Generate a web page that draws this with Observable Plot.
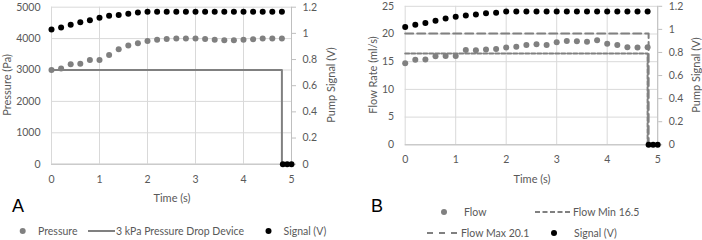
<!DOCTYPE html>
<html><head><meta charset="utf-8">
<script src="https://cdn.jsdelivr.net/npm/d3@7"></script>
<script src="https://cdn.jsdelivr.net/npm/@observablehq/plot@0.6"></script>
<style>
body{margin:0;background:#fff;}
#wrap{position:relative;width:702px;height:240px;overflow:hidden;font-family:Lato,"Open Sans",sans-serif;color:#595959;}
.abs{position:absolute;white-space:nowrap;line-height:1;}
</style>
</head><body><div id="wrap"></div>
<script>
// ---------- data ----------
const time = [0,0.2,0.4,0.6,0.8,1,1.2,1.4,1.6,1.8,2,2.2,2.4,2.6,2.8,3,3.2,3.4,3.6,3.8,4,4.2,4.4,4.6,4.8];
const pressure = [3000,3050,3180,3200,3320,3320,3480,3660,3780,3850,3920,3960,3990,4000,4000,4000,3990,3960,3950,3950,3960,3980,4000,4000,4000];
const signalA = [1.03,1.045,1.065,1.085,1.10,1.12,1.135,1.14,1.15,1.16,1.165,1.165,1.165,1.165,1.165,1.165,1.165,1.165,1.165,1.165,1.165,1.165,1.165,1.165,1.165];
const signalOffTime = [4.82,4.91,5.0];
const signalOff = [0,0,0];
const deviceTime = [0,4.8,4.8,5.0];
const devicePressure = [3000,3000,0,0];

const flow = [14.7,15.35,15.4,16.0,16.05,16.05,17.1,17.05,17.2,17.3,17.55,17.7,18.0,18.15,18.0,18.5,18.75,18.7,18.6,18.85,18.25,18.0,17.6,17.55,17.6];
const signalB = [1.02,1.04,1.055,1.075,1.095,1.11,1.12,1.13,1.14,1.145,1.155,1.155,1.155,1.155,1.155,1.155,1.155,1.155,1.155,1.155,1.155,1.155,1.155,1.155,1.155];
const flowMinTime = [0,4.8,4.8];
const flowMin = [16.5,16.5,0];
const flowMaxTime = [0,4.82,4.82];
const flowMax = [20.1,20.1,0];

const xTicks = [0,1,2,3,4,5];
const pressureTicks = [0,1000,2000,3000,4000,5000];
const flowTicks = [0,5,10,15,20,25];
const signalTicks = [0,0.2,0.4,0.6,0.8,1,1.2];
const signalTickLabels = ["0","0.2","0.4","0.6","0.8","1","1.2"];

// ---------- helpers ----------
const wrap = document.getElementById("wrap");
const GRID = "#d9d9d9", AXIS = "#bfbfbf", TXT = "#595959", GRAY = "#808080";
const font = {fontFamily:"Lato, 'Open Sans', sans-serif", fontSize:"10.5px", color:TXT, background:"transparent", overflow:"visible"};

function place(el, x, y){ el.style.position="absolute"; el.style.left=x+"px"; el.style.top=y+"px"; wrap.appendChild(el); }
function txt(s, x, y, {size=11, rot=0, anchor="center", color=TXT, family=null}={}){
  const d = document.createElement("div");
  d.className = "abs"; d.textContent = s;
  d.style.left = x+"px"; d.style.top = y+"px";
  d.style.fontSize = size+"px"; d.style.color = color;
  if (family) d.style.fontFamily = family;
  d.style.transform = (anchor==="center" ? "translate(-50%,-50%)" : "translate(0,-50%)") + (rot ? ` rotate(${rot}deg)` : "");
  wrap.appendChild(d);
}

function chart({width, height, mL, mR, mT, mB, yMax, yTicks, series, signal, lines}){
  const k = yMax / 1.2;
  const rows = time.map((t,i)=>({t, v:series[i], s:signal[i]*k}));
  const off = signalOffTime.map((t,i)=>({t, s:signalOff[i]*k}));
  return Plot.plot({
    width, height, marginLeft:mL, marginRight:mR, marginTop:mT, marginBottom:mB,
    x:{domain:[0,5]}, y:{domain:[0,yMax]},
    style:font,
    marks:[
      Plot.gridX(xTicks, {stroke:GRID, strokeOpacity:1}),
      Plot.gridY(yTicks, {stroke:GRID, strokeOpacity:1}),
      Plot.ruleY([0], {stroke:AXIS}),
      Plot.ruleX([5], {stroke:AXIS}),
      Plot.axisX(xTicks, {tickSize:0, tickPadding:11, label:null, fill:TXT, tickFormat:d=>String(d)}),
      Plot.axisY(yTicks, {anchor:"left", tickSize:0, tickPadding:11, label:null, fill:TXT, tickFormat:d=>String(d)}),
      Plot.axisY(signalTicks.map(v=>v*k), {anchor:"right", tickSize:4, tickPadding:7, label:null,
        stroke:AXIS, fill:TXT, tickFormat:(d,i)=>signalTickLabels[i]}),
      ...lines,
      Plot.dot(rows, {x:"t", y:"v", r:3, fill:GRAY, stroke:null}),
      Plot.dot(rows, {x:"t", y:"s", r:3, fill:"#000", stroke:null}),
      Plot.dot(off, {x:"t", y:"s", r:3, fill:"#000", stroke:null})
    ]
  });
}

// ---------- chart A ----------
const deviceRows = deviceTime.map((t,i)=>({t, v:devicePressure[i]}));
const A = chart({width:351, height:200, mL:51, mR:60, mT:6.7, mB:36.3, yMax:5000, yTicks:pressureTicks,
  series:pressure, signal:signalA,
  lines:[Plot.line(deviceRows, {x:"t", y:"v", stroke:GRAY, strokeWidth:2})]});
place(A, 0, 0);

// ---------- chart B ----------
const minRows = flowMinTime.map((t,i)=>({t, v:flowMin[i]}));
const maxRows = flowMaxTime.map((t,i)=>({t, v:flowMax[i]}));
const B = chart({width:351, height:180, mL:53.7, mR:44.8, mT:5.8, mB:35.7, yMax:25, yTicks:flowTicks,
  series:flow, signal:signalB,
  lines:[
    Plot.line(maxRows, {x:"t", y:"v", stroke:GRAY, strokeWidth:2, strokeDasharray:"8,4"}),
    Plot.line(minRows, {x:"t", y:"v", stroke:GRAY, strokeWidth:2, strokeDasharray:"4,2"})
  ]});
place(B, 351, 0);

// ---------- titles ----------
txt("Pressure (Pa)", 6, 85, {rot:-90});
txt("Pump Signal (V)", 330, 85, {rot:-90});
txt("Time (s)", 172, 197);
txt("Flow Rate (ml/s)", 372, 75, {rot:-90});
txt("Pump Signal (V)", 695, 75, {rot:-90});
txt("Time (s)", 532, 178);
txt("A", 18, 206, {size:18, color:"#000", family:"'Liberation Sans', Arial, sans-serif"});
txt("B", 377, 206, {size:18, color:"#000", family:"'Liberation Sans', Arial, sans-serif"});

// ---------- legends ----------
const lg = d3.create("svg").attr("width",702).attr("height",240).style("pointer-events","none");
lg.append("circle").attr("cx",22.7).attr("cy",231).attr("r",3).attr("fill",GRAY);
lg.append("line").attr("x1",88).attr("x2",115).attr("y1",231).attr("y2",231).attr("stroke",GRAY).attr("stroke-width",2);
lg.append("circle").attr("cx",268.5).attr("cy",231).attr("r",3).attr("fill","#000");
lg.append("circle").attr("cx",444).attr("cy",212).attr("r",3).attr("fill",GRAY);
lg.append("line").attr("x1",535).attr("x2",572).attr("y1",212).attr("y2",212).attr("stroke",GRAY).attr("stroke-width",2).attr("stroke-dasharray","5,2.5");
lg.append("line").attr("x1",427).attr("x2",460).attr("y1",233).attr("y2",233).attr("stroke",GRAY).attr("stroke-width",2).attr("stroke-dasharray","6,6");
lg.append("circle").attr("cx",554).attr("cy",233).attr("r",3).attr("fill","#000");
place(lg.node(), 0, 0);

txt("Pressure", 38, 231, {size:10.5, anchor:"left"});
txt("3 kPa Pressure Drop Device", 116, 231, {size:10.5, anchor:"left"});
txt("Signal (V)", 283.5, 231, {size:10.5, anchor:"left"});
txt("Flow", 464, 212, {size:10.5, anchor:"left"});
txt("Flow Min 16.5", 573, 212, {size:10.5, anchor:"left"});
txt("Flow Max 20.1", 461, 233, {size:10.5, anchor:"left"});
txt("Signal (V)", 574, 233, {size:10.5, anchor:"left"});
</script></body></html>
